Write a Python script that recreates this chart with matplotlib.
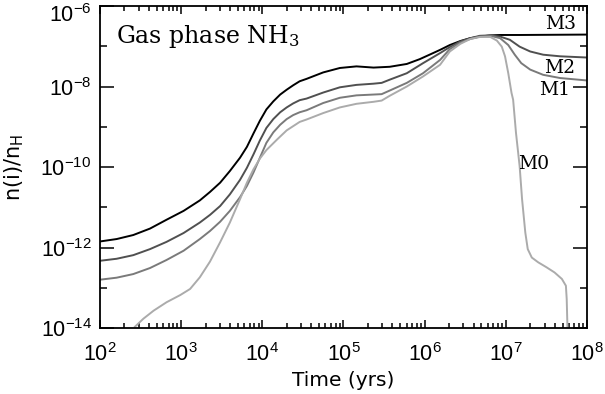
import matplotlib
matplotlib.use("Agg")
import matplotlib.pyplot as plt
import matplotlib.transforms as mtransforms
import numpy as np
from matplotlib.ticker import LogLocator, FixedLocator, NullFormatter

plt.rcParams["font.family"] = ["DejaVu Sans"]
plt.rcParams["mathtext.fontset"] = "custom"
plt.rcParams["mathtext.rm"] = "Liberation Sans"
plt.rcParams["mathtext.it"] = "Liberation Sans"

# log10(time [yr]) and log10(n(i)/nH)
m3_logt = [2.0, 2.205, 2.41, 2.616, 2.82, 3.03, 3.23, 3.355, 3.48, 3.60, 3.725, 3.81, 3.89, 3.97,
           4.05, 4.135, 4.22, 4.30, 4.38, 4.46, 4.545, 4.75, 4.955, 5.16, 5.37, 5.57, 5.78, 5.94,
           6.06, 6.19, 6.31, 6.44, 6.56, 6.68, 6.81, 6.93, 7.17, 8.0]
m3_logn = [-11.85, -11.79, -11.69, -11.53, -11.31, -11.09, -10.83, -10.62, -10.39, -10.10, -9.77,
           -9.50, -9.17, -8.85, -8.57, -8.37, -8.20, -8.08, -7.97, -7.87, -7.81, -7.65, -7.54,
           -7.50, -7.53, -7.51, -7.44, -7.32, -7.21, -7.09, -6.97, -6.87, -6.80, -6.76, -6.73,
           -6.72, -6.72, -6.71]

m2_logt = [2.0, 2.205, 2.41, 2.616, 2.82, 3.03, 3.23, 3.355, 3.48, 3.60, 3.725, 3.81, 3.89, 3.97,
           4.05, 4.135, 4.22, 4.30, 4.38, 4.46, 4.545, 4.75, 4.955, 5.16, 5.37, 5.47, 5.57, 5.78,
           5.98, 6.19, 6.31, 6.44, 6.56, 6.68, 6.81, 6.93, 7.05, 7.17, 7.30, 7.46, 7.67, 8.0]
m2_logn = [-12.33, -12.28, -12.19, -12.04, -11.86, -11.64, -11.38, -11.19, -10.97, -10.68, -10.32,
           -10.02, -9.69, -9.34, -9.03, -8.81, -8.64, -8.52, -8.42, -8.34, -8.30, -8.15, -8.02,
           -7.96, -7.93, -7.91, -7.83, -7.67, -7.42, -7.17, -7.02, -6.88, -6.80, -6.74, -6.73,
           -6.76, -6.84, -7.01, -7.13, -7.21, -7.25, -7.28]

m1_logt = [2.0, 2.205, 2.41, 2.616, 2.82, 3.03, 3.23, 3.355, 3.48, 3.60, 3.725, 3.81, 3.89, 3.97,
           4.05, 4.135, 4.22, 4.30, 4.38, 4.46, 4.545, 4.75, 4.955, 5.16, 5.37, 5.47, 5.57, 5.78,
           5.98, 6.19, 6.31, 6.44, 6.56, 6.68, 6.81, 6.93, 7.03, 7.11, 7.19, 7.30, 7.46, 7.67, 8.0]
m1_logn = [-12.80, -12.75, -12.66, -12.51, -12.31, -12.08, -11.79, -11.59, -11.36, -11.09, -10.75,
           -10.47, -10.14, -9.77, -9.40, -9.14, -8.95, -8.81, -8.71, -8.64, -8.59, -8.41, -8.28,
           -8.22, -8.20, -8.19, -8.10, -7.91, -7.67, -7.34, -7.07, -6.91, -6.82, -6.76, -6.74,
           -6.80, -6.97, -7.21, -7.42, -7.58, -7.71, -7.79, -7.85]

m0_logt = [2.43, 2.534, 2.66, 2.82, 2.99, 3.11, 3.23, 3.355, 3.48, 3.60, 3.725, 3.81, 3.89, 3.97,
           4.05, 4.18, 4.30, 4.46, 4.545, 4.75, 4.955, 5.16, 5.37, 5.47, 5.57, 5.78, 5.98, 6.19,
           6.31, 6.44, 6.56, 6.68, 6.81, 6.89, 6.95, 6.99, 7.03, 7.07, 7.09, 7.125, 7.17, 7.20,
           7.24, 7.27, 7.32, 7.40, 7.50, 7.60, 7.69, 7.74, 7.75, 7.76]
m0_logn = [-13.97, -13.77, -13.57, -13.36, -13.18, -13.03, -12.74, -12.35, -11.87, -11.38, -10.80,
           -10.39, -10.06, -9.79, -9.58, -9.32, -9.09, -8.88, -8.82, -8.66, -8.52, -8.43, -8.38,
           -8.35, -8.23, -8.00, -7.75, -7.46, -7.13, -6.94, -6.82, -6.77, -6.77, -6.86, -7.01,
           -7.25, -7.67, -8.16, -8.33, -9.15, -9.98, -10.80, -11.63, -12.04, -12.25, -12.37,
           -12.49, -12.62, -12.78, -12.95, -13.28, -14.05]

series = [
    ("M3", m3_logt, m3_logn, "#000000", (561, 24)),
    ("M2", m2_logt, m2_logn, "#505050", (560, 68)),
    ("M1", m1_logt, m1_logn, "#7a7a7a", (555, 90)),
    ("M0", m0_logt, m0_logn, "#ababab", (534, 164)),
]

W, H = 605, 394
fig = plt.figure(figsize=(W / 100, H / 100), dpi=100)
ax = fig.add_axes([100 / W, 1 - 328 / H, 487 / W, 322 / H])

for name, lt, ln, col, _ in series:
    ax.plot(10 ** np.array(lt), 10 ** np.array(ln), color=col, lw=1.4,
            solid_joinstyle="round", clip_on=True)

ax.set_xscale("log")
ax.set_yscale("log")
ax.set_xlim(1e2, 1e8)
ax.set_ylim(1e-14, 1e-6)

ax.xaxis.set_major_locator(FixedLocator([1e2, 1e3, 1e4, 1e5, 1e6, 1e7, 1e8]))
ax.xaxis.set_minor_locator(LogLocator(base=10, subs=np.arange(2, 10), numticks=20))
ax.xaxis.set_minor_formatter(NullFormatter())
ax.yaxis.set_major_locator(FixedLocator([1e-14, 1e-12, 1e-10, 1e-8, 1e-6]))
ax.yaxis.set_minor_locator(FixedLocator([1e-13, 1e-11, 1e-9, 1e-7]))
ax.yaxis.set_minor_formatter(NullFormatter())
ax.set_xticklabels([r"$10^{%d}$" % k for k in range(2, 9)])
ax.set_yticklabels([r"$10^{%d}$" % k for k in range(-14, -5, 2)])

ax.tick_params(axis="both", which="both", direction="in", top=True, right=True,
               labelsize=15.5, width=1.1, color="black")
ax.tick_params(axis="x", which="major", length=6, pad=10)
ax.tick_params(axis="x", which="minor", length=3.5)
ax.tick_params(axis="y", which="major", length=10, pad=6)
ax.tick_params(axis="y", which="minor", length=5)
for sp in ax.spines.values():
    sp.set_linewidth(1.3)

# nudge the top y label down so it stays inside the figure
top_lab = ax.yaxis.get_major_ticks()[-1].label1
top_lab.set_transform(top_lab.get_transform() +
                      mtransforms.ScaledTranslation(0, -7 / 100, fig.dpi_scale_trans))

ax.set_xlabel("Time (yrs)", fontsize=14.5)
ax.xaxis.set_label_coords(0.5, -0.135)
ax.set_ylabel(r"n(i)/n$_\mathregular{H}$", fontsize=15, math_fontfamily="dejavusans")
ax.yaxis.set_label_coords(-0.152, 0.5)

ax.text(0.033, 0.905, r"Gas phase NH$_\mathregular{3}$", transform=ax.transAxes,
        fontsize=17, family="DejaVu Serif", va="center", ha="left",
        math_fontfamily="dejavuserif")

for name, _, _, _, (px, py) in series:
    fig.text(px / W, 1 - py / H, name, fontsize=13.5, family="DejaVu Serif",
             ha="center", va="center")

fig.savefig("out.png", dpi=100)
